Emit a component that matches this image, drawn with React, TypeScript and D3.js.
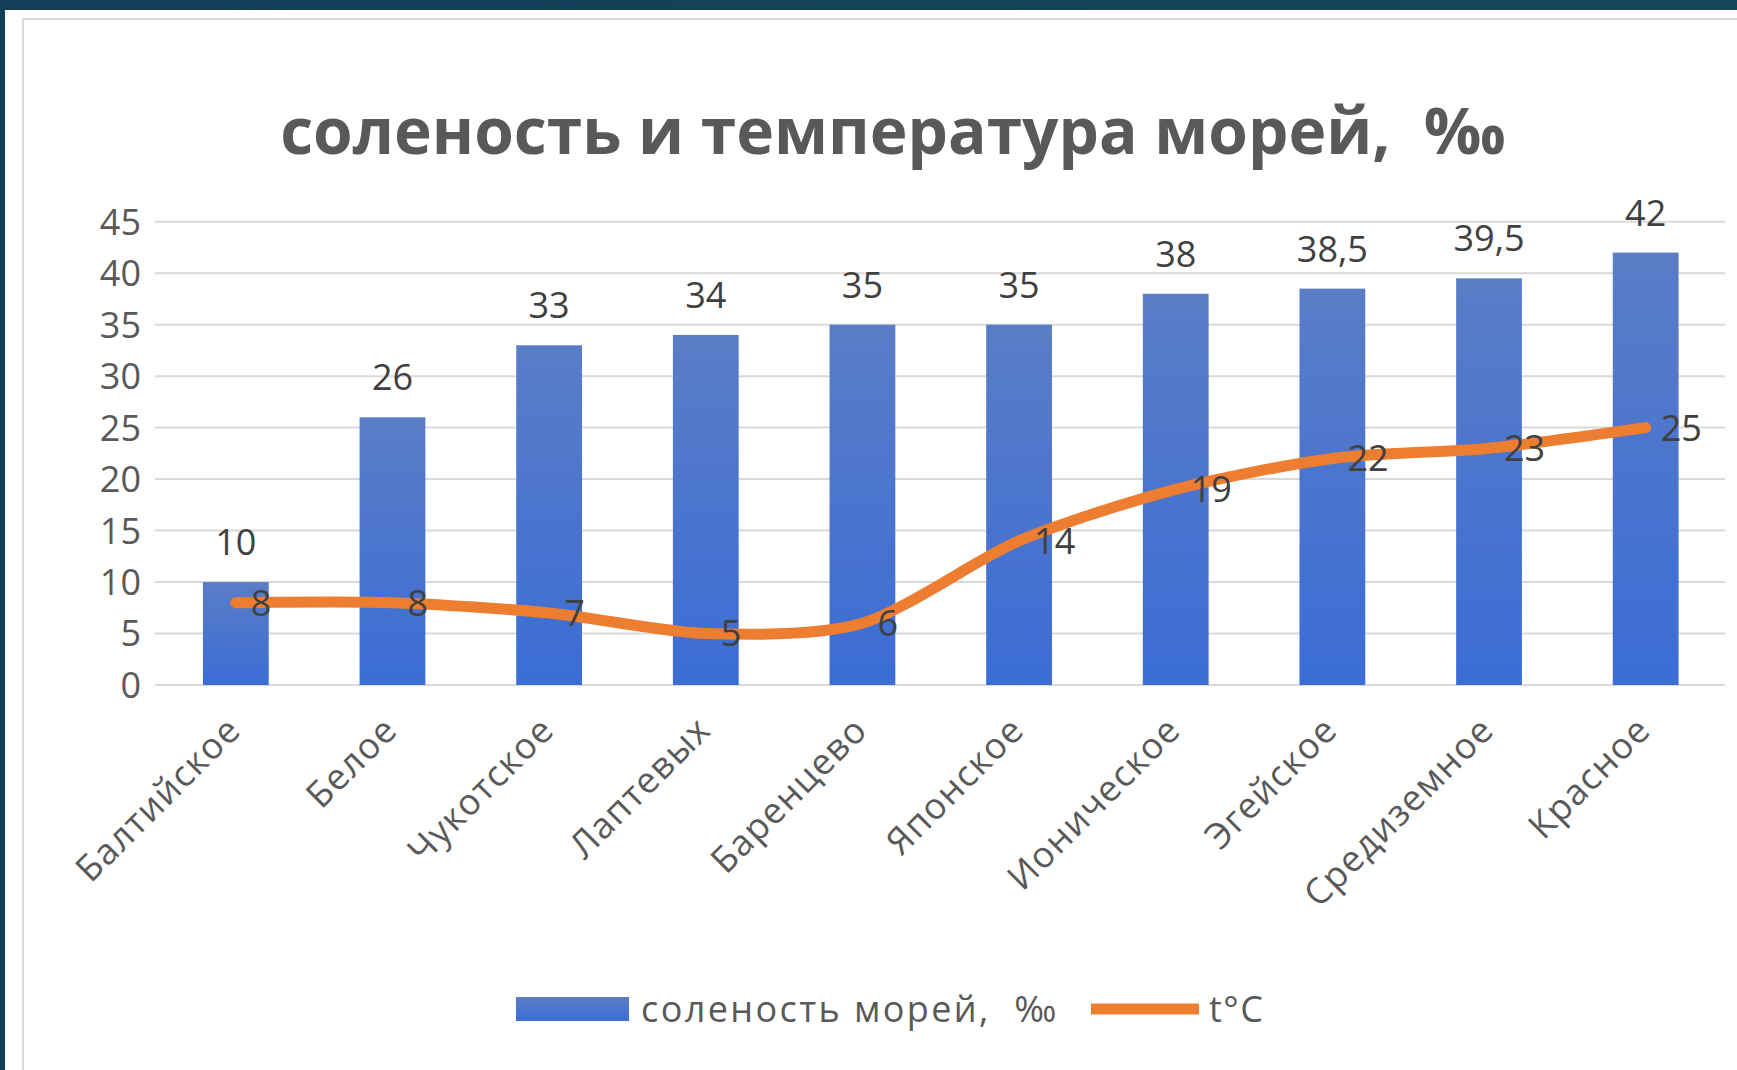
import React from "react";
import * as d3 from "d3";

const categories = ["Балтийское", "Белое", "Чукотское", "Лаптевых", "Баренцево", "Японское", "Ионическое", "Эгейское", "Средиземное", "Красное"];
const salinity = [10, 26, 33, 34, 35, 35, 38, 38.5, 39.5, 42];
const temperature = [8, 8, 7, 5, 6, 14, 19, 22, 23, 25];
const yTicks = [0, 5, 10, 15, 20, 25, 30, 35, 40, 45];
const titleText = "соленость и температура морей,  ‰";
const seriesNames = ["соленость морей,  ‰", "t°C"];

const W = 1737;
const H = 1070;
const FONT = "'Open Sans', 'Noto Sans', sans-serif";
const TEXT = "#595959";

const fmt = (v: number) => String(v).replace(".", ",");

export default function App() {
  const x = d3.scaleBand<string>().domain(categories).range([157.5, 1724]).paddingInner(0.58).paddingOuter(0.29);
  const y = d3.scaleLinear().domain([0, 45]).range([685, 221.7]);
  const cx = (c: string) => (x(c) as number) + x.bandwidth() / 2;

  const line = d3
    .line<number>()
    .x((_, i) => cx(categories[i]))
    .y((d) => y(d))
    .curve(d3.curveCardinal.tension(0.2));

  return (
    <svg width={W} height={H} style={{ position: "absolute", left: 0, top: 0 }} fontFamily={FONT}>
      <defs>
        <linearGradient id="barGrad" x1="0" y1="0" x2="0" y2="1">
          <stop offset="0" stopColor="#5a7dc6" />
          <stop offset="1" stopColor="#3b6dd6" />
        </linearGradient>
        <linearGradient id="bgGrad" x1="0" y1="0" x2="1" y2="0">
          <stop offset="0" stopColor="#123f57" />
          <stop offset="1" stopColor="#16455c" />
        </linearGradient>
      </defs>
      <rect x={0} y={0} width={W} height={H} fill="url(#bgGrad)" />
      <rect x={5} y={10} width={W} height={H} fill="#ffffff" />
      <rect x={23} y={19} width={W} height={H} fill="#ffffff" stroke="#d9d9d9" strokeWidth={2} />

      <text x={893} y={154} textAnchor="middle" fontSize={64} fontWeight={700} fill={TEXT} style={{ whiteSpace: "pre" }}>
        {titleText}
      </text>

      {yTicks.map((t) => (
        <g key={t}>
          <line x1={155} x2={1725} y1={y(t)} y2={y(t)} stroke="#d9d9d9" strokeWidth={2} />
          <text x={141} y={y(t)} dy="0.36em" textAnchor="end" fontSize={36} fill={TEXT}>
            {t}
          </text>
        </g>
      ))}

      {categories.map((c, i) => (
        <g key={c}>
          <rect x={x(c)} y={y(salinity[i])} width={x.bandwidth()} height={y(0) - y(salinity[i])} fill="url(#barGrad)" />
          <text x={cx(c)} y={y(salinity[i]) - 27} textAnchor="middle" fontSize={36} fill="#404040">
            {fmt(salinity[i])}
          </text>
          <text
            transform={`translate(${cx(c) + 7},${732}) rotate(-45)`}
            textAnchor="end"
            fontSize={36}
            letterSpacing={1.2}
            fill={TEXT}
          >
            {c}
          </text>
        </g>
      ))}

      <path d={line(temperature) ?? ""} fill="none" stroke="#ed7d31" strokeWidth={11} strokeLinecap="round" />

      {categories.map((c, i) => (
        <text key={c} x={cx(c) + 15} y={y(temperature[i])} dy="0.36em" fontSize={36} fill="#404040">
          {fmt(temperature[i])}
        </text>
      ))}

      <g>
        <rect x={516} y={997} width={113} height={24} fill="url(#barGrad)" />
        <text x={641} y={1009} dy="0.36em" fontSize={36} letterSpacing={2.4} fill={TEXT} style={{ whiteSpace: "pre" }}>
          {seriesNames[0]}
        </text>
        <line x1={1091} x2={1199} y1={1009} y2={1009} stroke="#ed7d31" strokeWidth={11} />
        <text x={1209} y={1009} dy="0.36em" fontSize={36} letterSpacing={1.5} fill={TEXT}>
          {seriesNames[1]}
        </text>
      </g>
    </svg>
  );
}
